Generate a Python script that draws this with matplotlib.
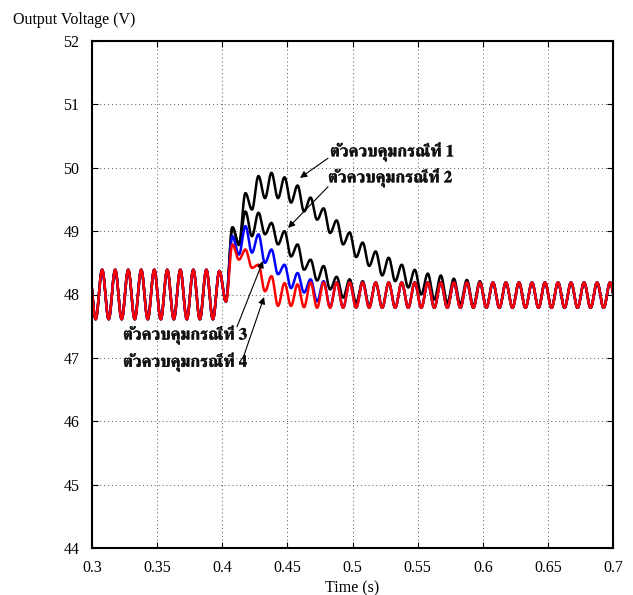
import numpy as np
import matplotlib
matplotlib.use("Agg")
import matplotlib.pyplot as plt
from matplotlib import font_manager
from matplotlib.ft2font import FT2Font
import matplotlib.patheffects as pe

# ---------------- data ----------------
# ripple extrema occur every half period (0.005 s), first peak at t0
t0 = 0.2978
half_period = 0.005
t_end = 0.705

pre_peak, pre_trough = 48.39, 47.61        # ripple before the load step
post_peak, post_trough = 48.19, 47.79      # ripple in steady state after
n_pre = 20                                  # extrema k = 0..19 before step
step_extrema = [48.37, 47.89]               # k = 20, 21 (start of step)

# extrema from k = 22 onwards, alternating peak / trough
case1 = [49.06, 48.80, 49.60, 49.34, 49.87, 49.52, 49.92, 49.52, 49.85, 49.45,
         49.72, 49.31, 49.53, 49.18, 49.36, 48.97, 49.17, 48.79, 48.98, 48.59,
         48.82, 48.45, 48.68, 48.30, 48.58, 48.21, 48.47, 48.11, 48.39, 48.00,
         48.33, 47.92, 48.30, 47.87, 48.25, 47.85, 48.23, 47.82, 48.21, 47.80]
case2 = [49.06, 48.78, 49.31, 48.92, 49.29, 48.95, 49.13, 48.79, 49.00, 48.60,
         48.79, 48.39, 48.55, 48.22, 48.45, 48.08, 48.28, 47.95, 48.24, 47.87,
         48.21, 47.82]
case3 = [48.92, 48.63, 49.08, 48.66, 48.95, 48.50, 48.71, 48.32, 48.47, 48.10,
         48.34, 48.03, 48.24, 47.89, 48.21, 47.80]
case4 = [48.79, 48.55, 48.71, 48.42, 48.47, 48.05, 48.29, 47.82, 48.18, 47.82,
         48.16, 47.80]

labels = ["ตัวควบคุมกรณีที่ 1", "ตัวควบคุมกรณีที่ 2",
          "ตัวควบคุมกรณีที่ 3", "ตัวควบคุมกรณีที่ 4"]
colors = ["black", "black", "#0000ff", "#ff0000"]

x_ticks = [0.3, 0.35, 0.4, 0.45, 0.5, 0.55, 0.6, 0.65, 0.7]
x_ticklabels = ["0.3", "0.35", "0.4", "0.45", "0.5", "0.55", "0.6", "0.65", "0.7"]
y_ticks = [44, 45, 46, 47, 48, 49, 50, 51, 52]


def build_extrema(case):
    vals = []
    for k in range(n_pre):
        vals.append(pre_peak if k % 2 == 0 else pre_trough)
    vals += step_extrema
    vals += case
    k = len(vals)
    while t0 + half_period * (k - 1) < t_end:
        vals.append(post_peak if k % 2 == 0 else post_trough)
        k += 1
    times = t0 + half_period * np.arange(len(vals))
    return times, np.array(vals)


def waveform(times, vals, n=30):
    ts, vs = [], []
    for i in range(len(vals) - 1):
        s = np.linspace(0, 1, n, endpoint=False)
        ts.append(times[i] + (times[i + 1] - times[i]) * s)
        vs.append(vals[i] + (vals[i + 1] - vals[i]) * (1 - np.cos(np.pi * s)) / 2)
    return np.concatenate(ts), np.concatenate(vs)


# ---------------- fonts ----------------
serif = "Liberation Serif"


def find_thai_font():
    best = None
    for f in font_manager.fontManager.ttflist:
        try:
            ft = FT2Font(f.fname)
            if ft.get_char_index(ord("ต")) and ft.get_char_index(ord("ุ")):
                score = 0
                w = f.weight if isinstance(f.weight, int) else (700 if "bold" in str(f.weight).lower() else 400)
                if w >= 600:
                    score += 2
                if "serif" in f.name.lower() and "sans" not in f.name.lower():
                    score += 1
                if f.style != "normal":
                    score -= 3
                if best is None or score > best[0]:
                    best = (score, f)
        except Exception:
            pass
    return best[1] if best else None


thai = find_thai_font()
if thai is not None:
    thai_prop = font_manager.FontProperties(fname=thai.fname, size=12, weight="bold")
else:
    thai_prop = font_manager.FontProperties(family="DejaVu Sans", size=12, weight="bold")

# ---------------- figure ----------------
fig = plt.figure(figsize=(6.33, 5.95), dpi=100)
ax = fig.add_axes([92 / 633, 47 / 595, 521 / 633, 507 / 595])

for case, col in zip([case1, case2, case3, case4], colors):
    t, v = build_extrema(case)
    tt, vv = waveform(t, v)
    ax.plot(tt, vv, color=col, lw=1.8, solid_joinstyle="round")

ax.set_xlim(0.3, 0.7)
ax.set_ylim(44, 52)
ax.set_xticks(x_ticks)
ax.set_xticklabels(x_ticklabels, fontfamily=serif, fontsize=11.5)
ax.set_yticks(y_ticks)
ax.set_yticklabels([str(v) for v in y_ticks], fontfamily=serif, fontsize=11.5)
ax.tick_params(direction="in", length=4, width=0.8, top=True, right=True, pad=9)
ax.grid(True, color="#555555", linestyle=(0, (1, 3)), linewidth=0.7)
for sp in ax.spines.values():
    sp.set_linewidth(1.5)

fig.text(13 / 633, 1 - 20 / 595, "Output Voltage (V)", fontfamily=serif,
         fontsize=11.5, va="center", ha="left")
fig.text(352 / 633, 1 - 588 / 595, "Time (s)", fontfamily=serif,
         fontsize=11.5, va="center", ha="center")

# text labels and arrows
text_pos = [(0.4827, 50.25), (0.4812, 49.84), (0.3238, 47.36), (0.3238, 46.93)]
arrow_tail = [(0.4812, 50.15), (0.4812, 49.70), (0.4113, 47.49), (0.4160, 47.00)]
arrow_head = [(0.4597, 49.84), (0.4505, 49.05), (0.4313, 48.53), (0.4321, 47.96)]

for lab, (tx, ty) in zip(labels, text_pos):
    ax.text(tx, ty, lab, fontproperties=thai_prop, va="center", ha="left",
            color="#111111",
            path_effects=[pe.withStroke(linewidth=0.25, foreground="#111111")])
for tail, head in zip(arrow_tail, arrow_head):
    ax.annotate("", xy=head, xytext=tail,
                arrowprops=dict(arrowstyle="-|>", color="black", lw=0.8,
                                mutation_scale=10, shrinkA=0, shrinkB=0))

fig.savefig("out.png", dpi=100)
